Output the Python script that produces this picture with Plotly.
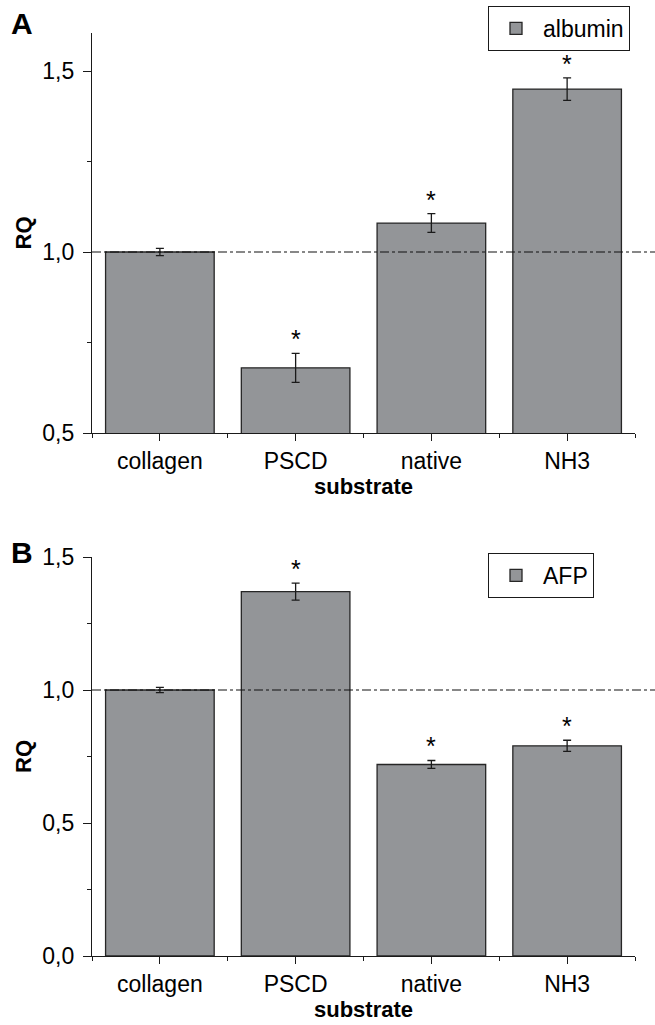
import plotly.graph_objects as go

categories = ["collagen", "PSCD", "native", "NH3"]

albumin_values = [1.00, 0.68, 1.08, 1.45]
albumin_errors = [0.010, 0.040, 0.026, 0.031]
albumin_signif = [False, True, True, True]

afp_values = [1.00, 1.37, 0.72, 0.79]
afp_errors = [0.010, 0.032, 0.015, 0.021]
afp_signif = [False, True, True, True]

ytick_vals_a = [0.5, 1.0, 1.5]
ytick_vals_b = [0.0, 0.5, 1.0, 1.5]

FONT = "Liberation Sans, Arial, Helvetica, sans-serif"
BAR_COLOR = "#939598"
EDGE = "#262626"

xpos = list(range(len(categories)))

fig = go.Figure()

fig.add_trace(go.Bar(
    x=xpos, y=albumin_values, name="albumin", width=0.8,
    marker=dict(color=BAR_COLOR, line=dict(color=EDGE, width=1.3)),
    error_y=dict(type="data", array=albumin_errors, color="#1a1a1a", thickness=1.3, width=4),
    xaxis="x", yaxis="y", legend="legend",
))
fig.add_trace(go.Bar(
    x=xpos, y=afp_values, name="AFP", width=0.8,
    marker=dict(color=BAR_COLOR, line=dict(color=EDGE, width=1.3)),
    error_y=dict(type="data", array=afp_errors, color="#1a1a1a", thickness=1.3, width=4),
    xaxis="x2", yaxis="y2", legend="legend2",
))

xdom = [92 / 655, 635 / 655]

def xaxis_cfg(anchor):
    return dict(
        domain=xdom, anchor=anchor, range=[-0.5, 3.5], automargin=False,
        tickmode="array", tickvals=xpos, ticktext=categories,
        ticks="outside", ticklen=7, tickwidth=1.2, tickcolor="#1a1a1a",
        showline=True, linecolor="#1a1a1a", linewidth=1.2,
        showgrid=False, zeroline=False,
        minor=dict(tick0=0.5, dtick=1, ticks="outside", ticklen=4, tickwidth=1.2, tickcolor="#1a1a1a", showgrid=False),
        tickfont=dict(family=FONT, size=23, color="black"),
        title=dict(text="<b>substrate</b>", font=dict(family=FONT, size=22, color="black"), standoff=0),
        fixedrange=True,
    )

def yaxis_cfg(anchor, dom, rng, tv):
    return dict(
        domain=dom, anchor=anchor, range=rng, automargin=False,
        tickmode="array", tickvals=tv, tickformat=".1f",
        ticks="outside", ticklen=8, tickwidth=1.2, tickcolor="#1a1a1a",
        showline=True, linecolor="#1a1a1a", linewidth=1.2,
        showgrid=False, zeroline=False,
        minor=dict(dtick=0.25, tick0=0, ticks="outside", ticklen=4, tickwidth=1.2, tickcolor="#1a1a1a", showgrid=False),
        tickfont=dict(family=FONT, size=23, color="black"),
        ticklabelstandoff=4,
        title=dict(text="<b>RQ</b>", font=dict(family=FONT, size=22, color="black"), standoff=4),
        fixedrange=True,
    )

ydom_a = [1 - 433 / 1025, 1 - 33 / 1025]
ydom_b = [1 - 956 / 1025, 1 - 557 / 1025]

annotations = []
for i, (v, e, s) in enumerate(zip(albumin_values, albumin_errors, albumin_signif)):
    if s:
        annotations.append(dict(x=i, y=v + e, xref="x", yref="y", text="*", showarrow=False,
                                yanchor="middle", yshift=14, font=dict(family=FONT, size=25, color="black")))
for i, (v, e, s) in enumerate(zip(afp_values, afp_errors, afp_signif)):
    if s:
        annotations.append(dict(x=i, y=v + e, xref="x2", yref="y2", text="*", showarrow=False,
                                yanchor="middle", yshift=14, font=dict(family=FONT, size=25, color="black")))

annotations.append(dict(x=22 / 655, y=1 - 23 / 1025, xref="paper", yref="paper", text="<b>A</b>",
                        showarrow=False, xanchor="center", yanchor="middle",
                        font=dict(family=FONT, size=30, color="black")))
annotations.append(dict(x=22 / 655, y=1 - 552 / 1025, xref="paper", yref="paper", text="<b>B</b>",
                        showarrow=False, xanchor="center", yanchor="middle",
                        font=dict(family=FONT, size=30, color="black")))

shapes = [
    dict(type="line", xref="x domain", yref="y", x0=0, x1=1.04, y0=1.0, y1=1.0,
         line=dict(color="#111111", width=1.1, dash="dashdot"), layer="above"),
    dict(type="line", xref="x2 domain", yref="y2", x0=0, x1=1.04, y0=1.0, y1=1.0,
         line=dict(color="#111111", width=1.1, dash="dashdot"), layer="above"),
]

legend_common = dict(
    bgcolor="white", bordercolor="#1a1a1a", borderwidth=1,
    font=dict(family=FONT, size=23, color="black"),
    itemwidth=44, xanchor="left", yanchor="top",
)

fig.update_layout(
    width=655, height=1025,
    margin=dict(l=0, r=0, t=0, b=0, autoexpand=False),
    paper_bgcolor="white", plot_bgcolor="white",
    separators=",.",
    showlegend=True,
    xaxis=xaxis_cfg("y"),
    yaxis=yaxis_cfg("x", ydom_a, [0.5, 1.605], ytick_vals_a),
    xaxis2=xaxis_cfg("y2"),
    yaxis2=yaxis_cfg("x2", ydom_b, [0.0, 1.5], ytick_vals_b),
    legend=dict(x=488 / 655, y=1 - 6 / 1025, **legend_common),
    legend2=dict(x=488 / 655, y=1 - 553 / 1025, **legend_common),
    annotations=annotations,
    shapes=shapes,
    bargap=0.2,
)

fig.write_html("out.html")
